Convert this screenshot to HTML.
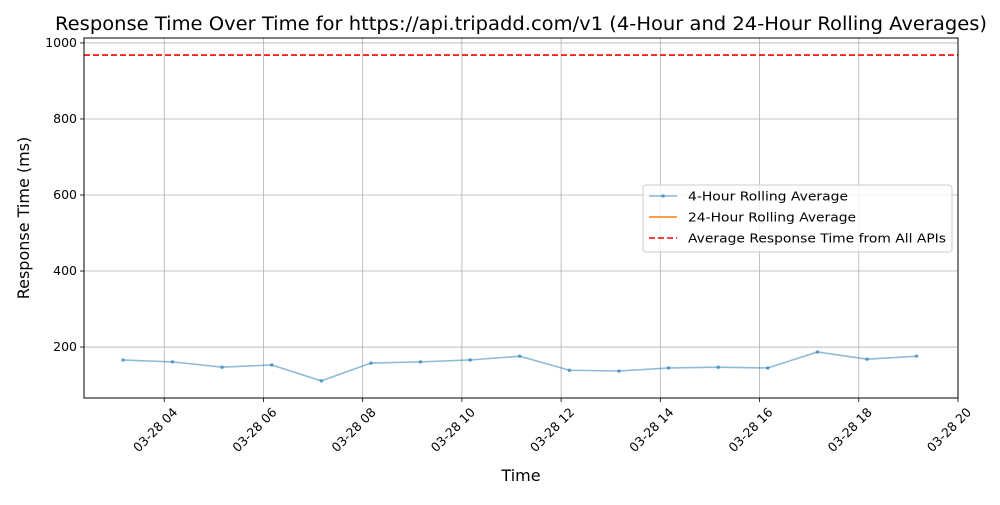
<!DOCTYPE html>
<html><head><meta charset="utf-8"><style>
body{margin:0;background:#fff;font-family:"Liberation Sans","DejaVu Sans",sans-serif;}
svg text{font-family:"DejaVu Sans","Liberation Sans",sans-serif;}
</style></head><body>
<svg id="chart" width="1000" height="500" xmlns="http://www.w3.org/2000/svg"></svg>
<script>
const times=["03:10","04:10","05:10","06:10","07:10","08:10","09:10","10:10","11:10","12:10","13:10","14:10","15:10","16:10","17:10","18:10","19:10"];
const rolling4h=[166,161,147,153,111,158,161,166,176,139,137,145,147,145,187,168,176];
const overallAvg=968;
const yTicks=[200,400,600,800,1000];
const xTickHours=[4,6,8,10,12,14,16,18,20];

const svg=document.getElementById('chart');
const NS='http://www.w3.org/2000/svg';
const L=84,R=958,T=38,B=398;
const yMin=66,yMax=1013;
const xMin=2.383,xMax=20;
const xs=h=>L+(h-xMin)/(xMax-xMin)*(R-L);
const ys=v=>B-(v-yMin)/(yMax-yMin)*(B-T);
const toH=t=>{const p=t.split(':');return +p[0]+ +p[1]/60;};
function el(tag,attrs,parent){const e=document.createElementNS(NS,tag);for(const k in attrs)e.setAttribute(k,attrs[k]);(parent||svg).appendChild(e);return e;}

const grid=el('g',{});


xTickHours.forEach(h=>{const x=xs(h);
  const g=el('line',{x1:x,x2:x,y1:T,y2:B,stroke:'#b0b0b0','stroke-width':0.8},grid);
  
  
  el('line',{x1:x,x2:x,y1:B,y2:B+4,stroke:'#000','stroke-width':0.8});
  const lbl=String(h).padStart(2,'0');
  const t=el('text',{x:0,y:0,'font-size':12.5,'text-anchor':'end',transform:`translate(${x+14},${B+15}) rotate(-45)`});
  t.textContent='03-28 '+lbl;
  
  
});
yTicks.forEach(v=>{const y=ys(v);
  const g=el('line',{x1:L,x2:R,y1:y,y2:y,stroke:'#b0b0b0','stroke-width':0.8},grid);
  
  
  el('line',{x1:L-4,x2:L,y1:y,y2:y,stroke:'#000','stroke-width':0.8});
  const t=el('text',{x:L-7,y:y+4,'font-size':12.5,'text-anchor':'end'});
  t.textContent=v;
  
  
});

const avg=el('line',{x1:L,x2:R,y1:ys(overallAvg),y2:ys(overallAvg),stroke:'#ff0000','stroke-width':1.6,'stroke-dasharray':'6,3'});



const pts=times.map((t,i)=>xs(toH(t))+','+ys(rolling4h[i])).join(' ');
const line=el('polyline',{points:pts,fill:'none',stroke:'#1f77b4','stroke-opacity':0.5,'stroke-width':1.6});


times.forEach((t,i)=>{
  const c=el('circle',{cx:xs(toH(t)),cy:ys(rolling4h[i]),r:1.8,fill:'#1f77b4','fill-opacity':0.6});
  
  
});

const frame=el('rect',{x:L,y:T,width:R-L,height:B-T,fill:'none',stroke:'#000','stroke-width':1});



const title=el('text',{x:521,y:30,'font-size':18.5,'text-anchor':'middle',textLength:932,lengthAdjust:'spacingAndGlyphs'});
title.textContent='Response Time Over Time for https://api.tripadd.com/v1 (4-Hour and 24-Hour Rolling Averages)';


const xt=el('text',{x:521,y:481,'font-size':16,'text-anchor':'middle'});
xt.textContent='Time';


const yt=el('text',{x:0,y:0,'font-size':16,'text-anchor':'middle',transform:'translate(29,218) rotate(-90)'});
yt.textContent='Response Time (ms)';



const lg=el('g',{});


el('rect',{x:643,y:185,width:309,height:67,fill:'#fff','fill-opacity':0.8,stroke:'#ccc',rx:3},lg);
const entries=[['4-Hour Rolling Average','#1f77b4',0.5,'',160],['24-Hour Rolling Average','#ff7f0e',1,'',168],['Average Response Time from All APIs','#ff0000',1,'6,3',258]];
entries.forEach((e,i)=>{const y=196+i*21;
  const g=el('g',{},lg);
  
  
  el('line',{x1:649,x2:677,y1:y,y2:y,stroke:e[1],'stroke-opacity':e[2],'stroke-width':1.6,'stroke-dasharray':e[3]},g);
  if(i===0)el('circle',{cx:663,cy:y,r:1.8,fill:e[1],'fill-opacity':0.6},g);
  const t=el('text',{x:688,y:y+4.5,'font-size':12.5,textLength:e[4],lengthAdjust:'spacingAndGlyphs'},g);t.textContent=e[0];
});
</script>
</body></html>
